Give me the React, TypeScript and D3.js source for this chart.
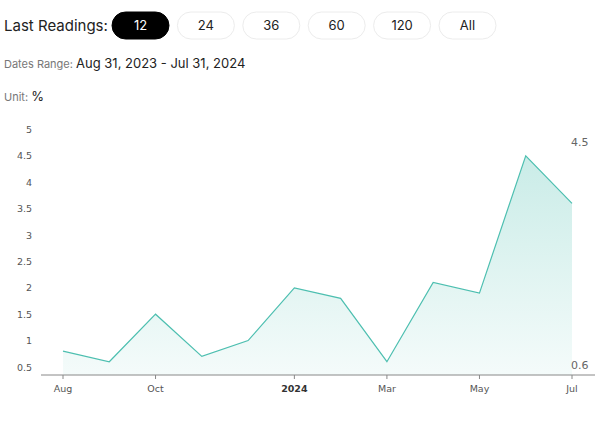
import React from "react";
import * as d3 from "d3";

const months = ["Aug", "Sep", "Oct", "Nov", "Dec", "Jan", "Feb", "Mar", "Apr", "May", "Jun", "Jul"];
const values = [0.8, 0.6, 1.5, 0.7, 1.0, 2.0, 1.8, 0.6, 2.1, 1.9, 4.5, 3.6];
const tickMonths = ["Aug", "Oct", "Jan", "Mar", "May", "Jul"];
const tickLabels: Record<string, string> = { Aug: "Aug", Oct: "Oct", Jan: "2024", Mar: "Mar", May: "May", Jul: "Jul" };
const yTicks = [0.5, 1, 1.5, 2, 2.5, 3, 3.5, 4, 4.5, 5];
const buttons = ["12", "24", "36", "60", "120", "All"];

export default function App() {
  const W = 600, H = 422;
  const x = d3.scalePoint<string>().domain(months).range([63, 572]);
  const y = d3.scaleLinear().domain([0.5, 5]).range([367, 129.4]);
  const axisY = 375;
  const line = d3.line<number>().x((_, i) => x(months[i])!).y((d) => y(d));
  const area = d3.area<number>().x((_, i) => x(months[i])!).y0(axisY).y1((d) => y(d));
  const maxV = d3.max(values)!;
  const minV = d3.min(values)!;
  const hf = "Inter, 'Open Sans', sans-serif";
  const cf = "'DejaVu Sans', Verdana, sans-serif";
  return (
    <svg width={W} height={H} style={{ position: "absolute", left: 0, top: 0, background: "#fff" }}>
      <defs>
        <linearGradient id="g" x1="0" y1={y(maxV)} x2="0" y2={axisY} gradientUnits="userSpaceOnUse">
          <stop offset="0" stopColor="#4dbfb0" stopOpacity={0.3} />
          <stop offset="1" stopColor="#4dbfb0" stopOpacity={0.06} />
        </linearGradient>
      </defs>
      <text x={4} y={31} fontFamily={hf} fontSize={15} fill="#222">Last Readings:</text>
      {buttons.map((b, i) => {
        const bx = 112 + i * 65.4;
        const sel = i === 0;
        return (
          <g key={b}>
            <rect x={bx} y={12} width={57} height={27} rx={13.5} fill={sel ? "#000" : "#fff"} stroke={sel ? "#000" : "#ececec"} />
            <text x={bx + 28.5} y={30} textAnchor="middle" fontFamily={hf} fontSize={13} fill={sel ? "#fff" : "#222"}>{b}</text>
          </g>
        );
      })}
      <text x={4} y={68} fontFamily={hf} fontSize={11} fill="#777">Dates Range: <tspan fontSize={13} fill="#222">Aug 31, 2023 - Jul 31, 2024</tspan></text>
      <text x={4} y={101} fontFamily={hf} fontSize={11} fill="#777">Unit: <tspan fontSize={13} fill="#222">%</tspan></text>

      {yTicks.map((t) => (
        <text key={t} x={32} y={y(t) + 3.5} textAnchor="end" fontFamily={cf} fontSize={9.5} fill="#555">{t}</text>
      ))}
      <path d={area(values)!} fill="url(#g)" />
      <path d={line(values)!} fill="none" stroke="#4dbfb0" strokeWidth={1.2} />
      <line x1={41} x2={595} y1={axisY} y2={axisY} stroke="#888" strokeWidth={1} />
      {tickMonths.map((m) => (
        <g key={m}>
          <line x1={x(m)!} x2={x(m)!} y1={axisY} y2={axisY + 4} stroke="#888" />
          <text x={x(m)!} y={392} textAnchor="middle" fontFamily={cf} fontSize={9.5} fontWeight={m === "Jan" ? "bold" : "normal"} fill={m === "Jan" ? "#333" : "#555"}>{tickLabels[m]}</text>
        </g>
      ))}
      <text x={571} y={146} fontFamily={cf} fontSize={11} fill="#666">{maxV}</text>
      <text x={571} y={369} fontFamily={cf} fontSize={11} fill="#666">{minV}</text>
    </svg>
  );
}
